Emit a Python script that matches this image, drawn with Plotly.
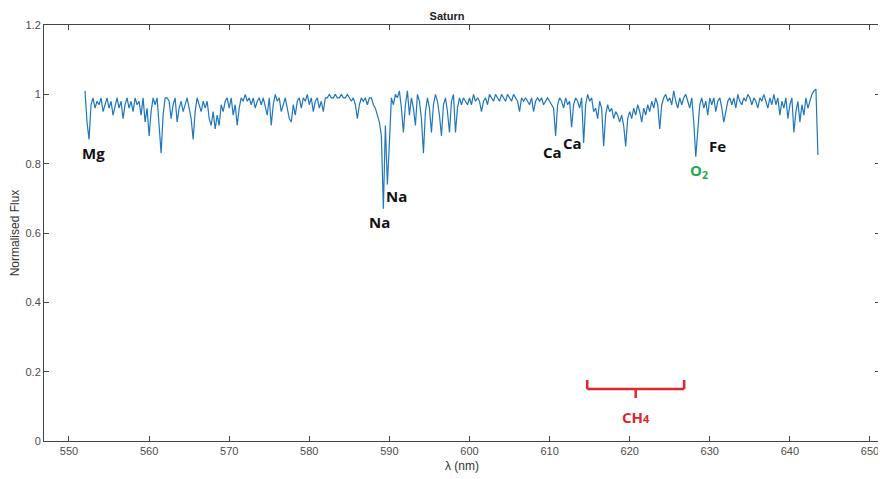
import numpy as np
import plotly.graph_objects as go

# Spectrum: flux, one row per nm, samples every 0.25 nm starting at 552.0 nm
start_nm = 552.0
step_nm = 0.25
flux_rows = [
    [1.01, 0.92, 0.87, 0.97],  # 552
    [0.99, 0.96, 0.98, 0.97],  # 553
    [0.99, 0.95, 0.97, 0.99],  # 554
    [0.96, 0.98, 0.94, 0.97],  # 555
    [0.99, 0.96, 0.98, 0.93],  # 556
    [0.97, 0.99, 0.96, 0.98],  # 557
    [0.95, 0.99, 0.97, 0.98],  # 558
    [0.94, 0.99, 0.92, 0.96],  # 559
    [0.88, 0.95, 0.99, 0.97],  # 560
    [0.99, 0.91, 0.83, 0.94],  # 561
    [0.99, 0.99, 0.98, 0.93],  # 562
    [0.97, 0.99, 0.92, 0.96],  # 563
    [0.98, 0.95, 0.97, 0.99],  # 564
    [0.96, 0.93, 0.87, 0.95],  # 565
    [0.99, 0.97, 0.95, 0.98],  # 566
    [0.96, 0.98, 0.93, 0.91],  # 567
    [0.95, 0.90, 0.94, 0.91],  # 568
    [0.97, 0.95, 0.98, 0.99],  # 569
    [0.96, 0.99, 0.94, 0.97],  # 570
    [0.91, 0.96, 0.99, 0.98],  # 571
    [1.00, 0.98, 0.99, 0.97],  # 572
    [0.99, 0.96, 0.98, 0.99],  # 573
    [0.97, 0.99, 0.96, 0.94],  # 574
    [0.99, 0.91, 0.97, 1.00],  # 575
    [0.98, 0.99, 0.95, 0.97],  # 576
    [0.99, 0.96, 0.93, 0.92],  # 577
    [0.97, 0.94, 0.98, 0.99],  # 578
    [0.96, 0.99, 0.98, 1.00],  # 579
    [0.97, 0.99, 0.95, 0.98],  # 580
    [0.99, 0.96, 0.98, 0.95],  # 581
    [0.99, 0.99, 1.00, 0.99],  # 582
    [0.99, 1.00, 0.99, 0.99],  # 583
    [1.00, 0.99, 0.99, 1.00],  # 584
    [0.99, 0.98, 0.99, 0.97],  # 585
    [0.93, 0.97, 0.99, 0.98],  # 586
    [0.99, 0.97, 0.99, 0.99],  # 587
    [0.97, 0.96, 0.94, 0.92],  # 588
    [0.88, 0.67, 0.91, 0.74],  # 589
    [0.86, 0.99, 0.97, 1.00],  # 590
    [0.99, 1.01, 0.96, 0.89],  # 591
    [0.97, 1.01, 0.94, 0.99],  # 592
    [0.96, 0.91, 1.00, 0.98],  # 593
    [0.93, 0.83, 0.95, 0.99],  # 594
    [0.96, 0.89, 0.97, 1.00],  # 595
    [0.98, 0.94, 0.88, 0.97],  # 596
    [0.99, 0.95, 0.89, 0.98],  # 597
    [1.00, 0.89, 0.96, 0.99],  # 598
    [0.97, 0.99, 0.98, 0.97],  # 599
    [0.99, 0.97, 1.00, 0.98],  # 600
    [0.99, 0.98, 0.95, 0.98],  # 601
    [0.99, 0.97, 1.00, 0.99],  # 602
    [0.98, 1.00, 0.99, 0.98],  # 603
    [1.00, 0.99, 0.98, 1.00],  # 604
    [0.99, 0.98, 1.00, 0.99],  # 605
    [0.98, 0.95, 0.99, 0.98],  # 606
    [0.99, 0.98, 0.97, 0.99],  # 607
    [0.95, 0.98, 0.99, 0.98],  # 608
    [0.99, 0.97, 0.98, 0.99],  # 609
    [0.98, 0.97, 0.96, 0.88],  # 610
    [0.97, 0.99, 0.98, 0.96],  # 611
    [0.99, 0.97, 0.98, 0.905], # 612
    [0.97, 0.99, 0.98, 0.96],  # 613
    [0.99, 0.86, 0.97, 1.00],  # 614
    [0.98, 0.99, 0.95, 0.96],  # 615
    [0.93, 0.98, 0.96, 0.85],  # 616
    [0.94, 0.97, 0.95, 0.96],  # 617
    [0.93, 0.95, 0.94, 0.92],  # 618
    [0.94, 0.91, 0.85, 0.93],  # 619
    [0.95, 0.93, 0.96, 0.94],  # 620
    [0.97, 0.95, 0.92, 0.96],  # 621
    [0.94, 0.97, 0.95, 0.98],  # 622
    [0.96, 0.99, 0.97, 0.90],  # 623
    [0.97, 0.99, 1.00, 0.98],  # 624
    [0.99, 0.97, 1.01, 0.98],  # 625
    [0.96, 0.99, 0.97, 0.99],  # 626
    [1.00, 0.98, 0.96, 0.99],  # 627
    [0.92, 0.82, 0.90, 0.97],  # 628
    [0.99, 0.96, 0.98, 0.94],  # 629
    [0.99, 0.97, 0.99, 0.95],  # 630
    [0.98, 0.99, 0.96, 0.92],  # 631
    [0.95, 0.98, 0.99, 0.97],  # 632
    [0.99, 0.96, 1.00, 0.98],  # 633
    [0.97, 0.99, 0.98, 1.00],  # 634
    [0.99, 0.97, 0.99, 0.98],  # 635
    [0.96, 0.99, 0.98, 1.00],  # 636
    [0.98, 0.96, 0.99, 0.97],  # 637
    [1.00, 0.97, 0.99, 0.94],  # 638
    [0.98, 0.96, 0.99, 0.93],  # 639
    [0.97, 0.99, 0.89, 0.95],  # 640
    [0.98, 0.92, 0.97, 0.94],  # 641
    [0.99, 0.96, 0.98, 1.00],  # 642
    [1.01, 1.015, 0.825],      # 643
]
flux = [v for row in flux_rows for v in row]
wavelength = [start_nm + step_nm * i for i in range(len(flux))]

# Line labels (element, wavelength, flux position, colour)
label_text = ["Mg", "Na", "Na", "Ca", "Ca", "Fe", "O<sub>2</sub>"]
label_x = [553.0, 588.8, 590.9, 610.4, 612.8, 630.9, 628.65]
label_y = [0.83, 0.632, 0.707, 0.834, 0.86, 0.851, 0.779]
label_color = ["#111111"] * 6 + ["#1fa84f"]

# CH4 band bracket
ch4_start, ch4_end = 614.7, 626.8
ch4_y, ch4_cap_y, ch4_stem_y, ch4_text_y = 0.15, 0.176, 0.124, 0.069

x_ticks = list(range(550, 651, 10))
y_ticks = [0, 0.2, 0.4, 0.6, 0.8, 1.0, 1.2]
y_ticklabels = ["0", "0.2", "0.4", "0.6", "0.8", "1", "1.2"]

fig = go.Figure()
fig.add_trace(go.Scatter(x=wavelength, y=flux, mode="lines",
                         line=dict(color="#1f77c0", width=1.2), showlegend=False))

annotations = []
for t, x, y, c in zip(label_text, label_x, label_y, label_color):
    annotations.append(dict(x=x, y=y, xref="x", yref="y", text=f"<b>{t}</b>",
                            showarrow=False,
                            font=dict(family="Open Sans, Lato, sans-serif", size=15, color=c)))
red = "#e3262b"
ch4_mid = (ch4_start + ch4_end) / 2
annotations.append(dict(x=ch4_mid, y=ch4_text_y, xref="x", yref="y",
                        text="<b>CH<span style='font-size:11px'>4</span></b>", showarrow=False,
                        font=dict(family="Open Sans, Lato, sans-serif", size=15, color=red)))

shapes = [
    dict(type="line", xref="x", yref="y", x0=ch4_start, x1=ch4_end, y0=ch4_y, y1=ch4_y,
         line=dict(color=red, width=2.5)),
    dict(type="line", xref="x", yref="y", x0=ch4_start, x1=ch4_start, y0=ch4_y, y1=ch4_cap_y,
         line=dict(color=red, width=2.5)),
    dict(type="line", xref="x", yref="y", x0=ch4_end, x1=ch4_end, y0=ch4_y, y1=ch4_cap_y,
         line=dict(color=red, width=2.5)),
    dict(type="line", xref="x", yref="y", x0=ch4_mid, x1=ch4_mid, y0=ch4_y, y1=ch4_stem_y,
         line=dict(color=red, width=2.5)),
]

fam = "Liberation Sans Narrow, Liberation Sans, Arial, sans-serif"
axis_font = dict(family=fam, size=11, color="#4d4d4d")

# page has an 8px body margin, so the figure is sized/offset to compensate
fig.update_layout(
    width=878, height=471,
    margin=dict(l=36, r=6, t=17, b=38),
    paper_bgcolor="white", plot_bgcolor="white",
    title=dict(text="<b>Saturn</b>", x=0.5, xanchor="center", y=1 - 8 / 471, yanchor="middle",
               font=dict(family=fam, size=11, color="#222")),
    annotations=annotations,
    shapes=shapes,
    xaxis=dict(range=[546.88, 651.25], tickvals=x_ticks, ticks="inside", ticklen=5,
               tickcolor="#444", showline=True, linecolor="#444", linewidth=1, mirror="allticks",
               showgrid=False, zeroline=False, tickfont=axis_font, automargin=False,
               title=dict(text="λ (nm)", font=dict(family=fam, size=12, color="#333"), standoff=5)),
    yaxis=dict(range=[0, 1.2], tickvals=y_ticks, ticktext=y_ticklabels, ticks="inside", ticklen=5,
               tickcolor="#444", showline=True, linecolor="#444", linewidth=1, mirror="allticks",
               showgrid=False, zeroline=False, tickfont=axis_font, automargin=False,
               title=dict(text="Normalised Flux", font=dict(family=fam, size=12, color="#333"), standoff=5)),
)

fig.write_html("out.html")
